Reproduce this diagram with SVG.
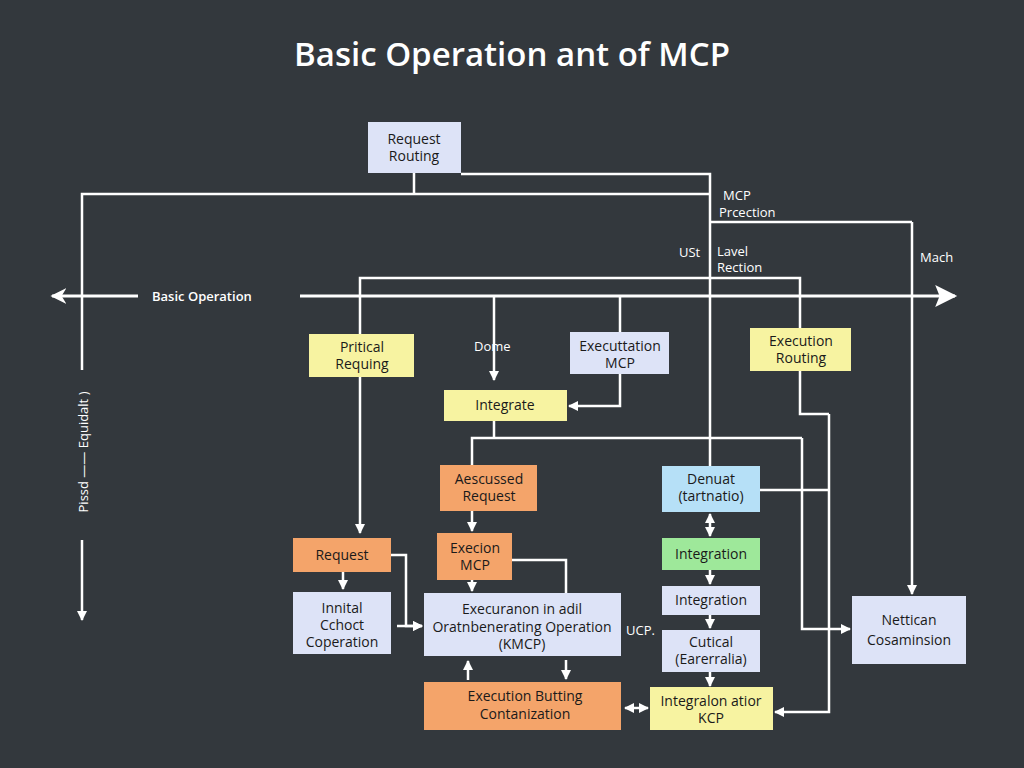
<svg xmlns="http://www.w3.org/2000/svg" width="1024" height="768" viewBox="0 0 1024 768">
<defs>
<marker id="a" viewBox="0 0 10 10" refX="9" refY="5" markerWidth="4" markerHeight="4" orient="auto-start-reverse"><path d="M0,0L10,5L0,10z" fill="#fff"/></marker>
<marker id="big" viewBox="0 0 10 10" refX="9" refY="5" markerWidth="26" markerHeight="22" markerUnits="userSpaceOnUse" orient="auto-start-reverse"><path d="M0,0L10,5L0,10L2,5z" fill="#fff"/></marker>
<marker id="sm" viewBox="0 0 10 10" refX="9" refY="5" markerWidth="16" markerHeight="16" markerUnits="userSpaceOnUse" orient="auto-start-reverse"><path d="M0,0L10,5L0,10L3,5z" fill="#fff"/></marker>
</defs>
<style>
.t{font-family:"Open Sans","DejaVu Sans",sans-serif;font-size:14px;fill:#1a1a1a;text-anchor:middle}
.w{font-family:"Open Sans","DejaVu Sans",sans-serif;font-size:13px;fill:#fff}
.c path,.c line{stroke:#fff;stroke-width:2.5;fill:none}
.ar{marker-end:url(#a)}
.lav{fill:#dde3f7}.yel{fill:#f7f3a1}.ora{fill:#f4a46a}.blu{fill:#b6e0f7}.grn{fill:#9ee89a}
</style>
<rect width="1024" height="768" fill="#33383d"/>
<text x="512" y="66" font-family="'Open Sans','DejaVu Sans',sans-serif" font-size="33" font-weight="600" fill="#fff" text-anchor="middle">Basic Operation ant of MCP</text>
<g class="c">
<line x1="138" y1="296" x2="52" y2="296" marker-end="url(#sm)" style="stroke-width:3"/>
<line x1="300" y1="296" x2="955" y2="296" style="marker-end:url(#big);stroke-width:3"/>
<path d="M414,173V194M82,370V194H710"/>
<path class="ar" d="M82,540V620"/>
<path d="M461,174H710V466M710,222H912"/>
<path class="ar" d="M912,222V594"/>
<path d="M360,334V278H800V328"/>
<path class="ar" d="M360,377V533"/>
<path class="ar" d="M494,296V380"/>
<path d="M620,296V332"/>
<path class="ar" d="M620,374V406H569"/>
<path d="M494,421V438M472,465V438H802"/>
<path class="ar" d="M802,438V629H850"/>
<path d="M800,371V414H829"/>
<path class="ar" d="M829,414V712H775"/>
<path d="M760,490H829"/>
<path class="ar" d="M472,511V531"/>
<path class="ar" d="M343,572V589"/>
<path class="ar" d="M391,555H406V626H422"/>
<path class="ar" d="M397,626H422"/>
<path class="ar" d="M472,580V591"/>
<path d="M512,560H566V593"/>
<path class="ar" d="M468,680V661"/>
<path class="ar" d="M566,660V679"/>
<path class="ar" d="M625,708H648" style="marker-start:url(#a)"/>
<path class="ar" d="M710,514V536" style="marker-start:url(#a)"/>
<path class="ar" d="M710,570V584"/>
<path class="ar" d="M710,615V628"/>
<path class="ar" d="M710,672V686"/>
</g>
<text class="w" x="152" y="301" font-weight="600" font-size="16">Basic Operation</text>
<text class="w" x="723" y="200">MCP</text><text class="w" x="719" y="217">Prcection</text>
<text class="w" x="679" y="257">USt</text>
<text class="w" x="717" y="256">Lavel</text><text class="w" x="717" y="272">Rection</text>
<text class="w" x="920" y="262">Mach</text>
<text class="w" x="474" y="351">Dome</text>
<text class="w" x="626" y="635">UCP.</text>
<text class="w" transform="translate(88,452) rotate(-90)" text-anchor="middle">Pissd —— Equidalt )</text>
<g id="n1"><rect class="lav" x="368" y="122" width="93" height="51"/><text class="t" x="414" y="144">Request</text><text class="t" x="414" y="161">Routing</text></g>
<g id="n2"><rect class="yel" x="309" y="334" width="105" height="43"/><text class="t" x="362" y="352">Pritical</text><text class="t" x="362" y="369">Requing</text></g>
<g id="n3"><rect class="lav" x="570" y="332" width="99" height="42"/><text class="t" x="620" y="351">Executtation</text><text class="t" x="620" y="368">MCP</text></g>
<g id="n4"><rect class="yel" x="750" y="328" width="101" height="43"/><text class="t" x="801" y="346">Execution</text><text class="t" x="801" y="363">Routing</text></g>
<g id="n5"><rect class="yel" x="444" y="390" width="123" height="31"/><text class="t" x="505" y="410">Integrate</text></g>
<g id="n6"><rect class="ora" x="440" y="465" width="97" height="46"/><text class="t" x="489" y="484">Aescussed</text><text class="t" x="489" y="501">Request</text></g>
<g id="n7"><rect class="blu" x="662" y="466" width="98" height="46"/><text class="t" x="711" y="484">Denuat</text><text class="t" x="711" y="501">(tartnatio)</text></g>
<g id="n8"><rect class="ora" x="293" y="538" width="98" height="34"/><text class="t" x="342" y="560">Request</text></g>
<g id="n9"><rect class="ora" x="437" y="533" width="75" height="47"/><text class="t" x="475" y="553">Execion</text><text class="t" x="475" y="570">MCP</text></g>
<g id="n10"><rect class="grn" x="662" y="538" width="98" height="32"/><text class="t" x="711" y="559">Integration</text></g>
<g id="n11"><rect class="lav" x="662" y="586" width="98" height="29"/><text class="t" x="711" y="605">Integration</text></g>
<g id="n12"><rect class="lav" x="293" y="592" width="98" height="62"/><text class="t" x="342" y="613">Innital</text><text class="t" x="342" y="630">Cchoct</text><text class="t" x="342" y="647">Coperation</text></g>
<g id="n13"><rect class="lav" x="424" y="593" width="197" height="63"/><text class="t" x="522" y="614">Execuranon in adil</text><text class="t" x="522" y="632">Oratnbenerating Operation</text><text class="t" x="522" y="649">(KMCP)</text></g>
<g id="n14"><rect class="lav" x="662" y="630" width="98" height="42"/><text class="t" x="711" y="647">Cutical</text><text class="t" x="711" y="664">(Earerralia)</text></g>
<g id="n15"><rect class="ora" x="424" y="682" width="197" height="48"/><text class="t" x="525" y="701">Execution Butting</text><text class="t" x="525" y="719">Contanization</text></g>
<g id="n16"><rect class="yel" x="650" y="687" width="123" height="43"/><text class="t" x="711" y="706">Integralon atior</text><text class="t" x="711" y="723">KCP</text></g>
<g id="n17"><rect class="lav" x="852" y="596" width="114" height="68"/><text class="t" x="909" y="625">Nettican</text><text class="t" x="909" y="645">Cosaminsion</text></g>
</svg>
